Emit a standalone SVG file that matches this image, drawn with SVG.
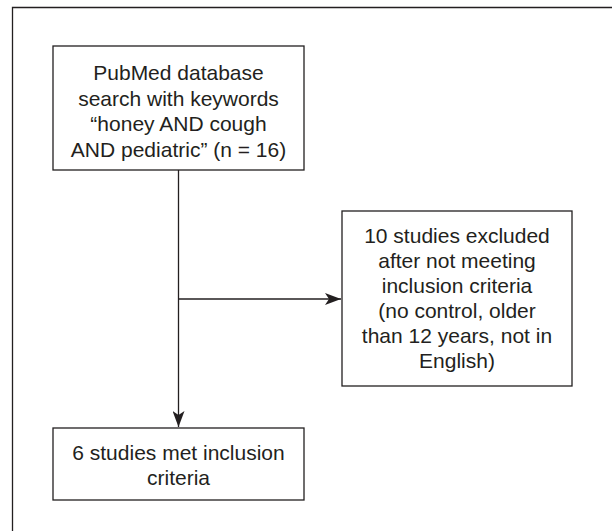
<svg xmlns="http://www.w3.org/2000/svg" width="612" height="531" viewBox="0 0 612 531">
<defs>
<style>
.box{fill:#fff;stroke:#231f20;stroke-width:1.3}
.ln{fill:none;stroke:#231f20;stroke-width:1.3}
text{font-family:"Liberation Sans",Arial,sans-serif;font-size:21px;fill:#231f20;text-anchor:middle}
</style>
<marker id="ah" viewBox="0 0 16 12" markerWidth="16" markerHeight="12" refX="16" refY="6" orient="auto" markerUnits="userSpaceOnUse">
<path d="M0,0 L16,6 L0,12 L4,6 Z" fill="#231f20"/>
</marker>
</defs>
<rect width="612" height="531" fill="#fff"/>
<polyline class="ln" points="12.5,531 12.5,7.5 612,7.5"/>
<g id="connectors">
<line class="ln" x1="178.5" y1="170" x2="178.5" y2="427" marker-end="url(#ah)"/>
<line class="ln" x1="178.5" y1="299" x2="341" y2="299" marker-end="url(#ah)"/>
</g>
<g id="search">
<rect class="box" x="53" y="46" width="251" height="124"/>
<text x="178.5" y="80">PubMed database</text>
<text x="178.5" y="106">search with keywords</text>
<text x="178.5" y="131">“honey AND cough</text>
<text x="178.5" y="157">AND pediatric” (n = 16)</text>
</g>
<g id="excluded">
<rect class="box" x="342" y="211" width="230" height="175"/>
<text x="457" y="243">10 studies excluded</text>
<text x="457" y="268">after not meeting</text>
<text x="457" y="293">inclusion criteria</text>
<text x="457" y="318">(no control, older</text>
<text x="457" y="343">than 12 years, not in</text>
<text x="457" y="368">English)</text>
</g>
<g id="included">
<rect class="box" x="53" y="428" width="251" height="72"/>
<text x="178.5" y="460">6 studies met inclusion</text>
<text x="178.5" y="485">criteria</text>
</g>
</svg>
